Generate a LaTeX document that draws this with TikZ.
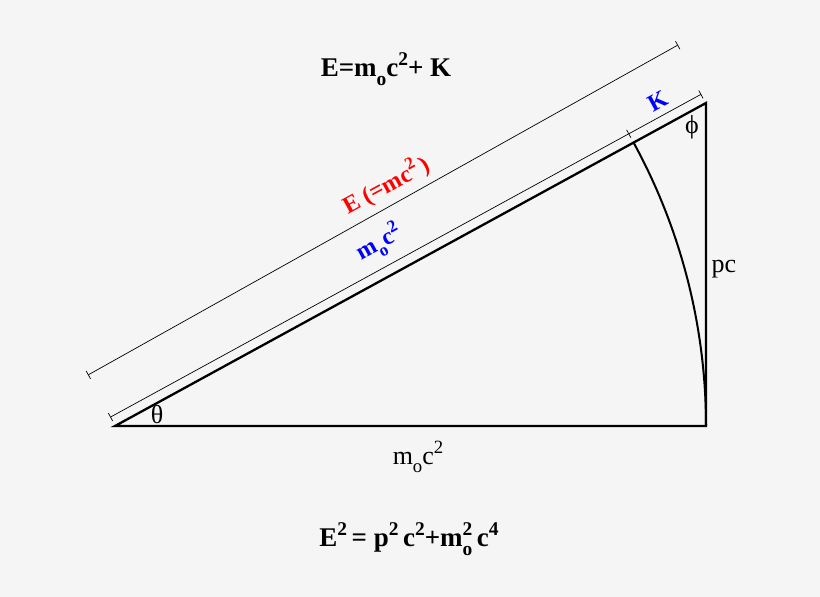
\documentclass[tikz,border=0pt]{standalone}
\usepackage{fontspec}
\setmainfont{Liberation Serif}
\usetikzlibrary{calc,arrows.meta}

\newcommand{\lo}[1]{\raisebox{-0.3em}{\scalebox{0.72}{#1}}}
\newcommand{\hi}[1]{\raisebox{0.42em}{\scalebox{0.72}{#1}}}
\newcommand{\lohi}[2]{\rlap{\raisebox{0.42em}{\scalebox{0.72}{#2}}}\lo{#1}\,}

\begin{document}
\begin{tikzpicture}[x=1pt, y=1pt,
    side/.style={line width=2.3pt, line join=miter},
    dimline/.style={line width=0.7pt, {Bar[width=9pt,line width=0.7pt]}-{Bar[width=9pt,line width=0.7pt]}},
    formula/.style={font=\bfseries\fontsize{27}{31}\selectfont},
    tag/.style={font=\fontsize{26}{30}\selectfont},
    slanted/.style={font=\bfseries\fontsize{24}{28}\selectfont, rotate=28.65}]
  \useasboundingbox[fill=black!4] (0,0) rectangle (820,597);

  % corners of the triangle
  \coordinate (A) at (115,171);
  \coordinate (B) at (706,171);
  \coordinate (C) at (706,494);

  % triangle and arc
  \draw[side] (A) -- (B) -- (C) -- cycle;
  \draw[line width=2pt] (B) arc[start angle=0, end angle=28.65, radius=591];

  % inner measure line, split at the arc
  \coordinate (Ai) at ($(A)!10pt!90:(C)$);
  \coordinate (Ci) at ($(C)!10pt!-90:(A)$);
  \coordinate (Mi) at ($(Ai)!591pt!(Ci)$);
  \draw[dimline] (Ai) -- (Ci);
  \draw[line width=0.7pt] ($(Mi)!4.5pt!90:(Ci)$) -- ($(Mi)!4.5pt!-90:(Ci)$);

  % outer measure line
  \coordinate (Ao) at (88,222);
  \coordinate (Co) at (678,552);
  \draw[dimline] (Ao) -- (Co);

  % labels
  \node[formula] (total) at (386,528) {E=m\lo{o}c\hi{2}+ K};
  \node[formula] (invariant) at (409,58) {E\hi{2}\,= p\hi{2}\,c\hi{2}+m\lohi{o}{2}c\hi{4}};
  \node[slanted, text=red] (energy) at (386,412) {E (=mc\hi{2}\,)};
  \node[slanted, text=blue] (rest) at (379,354) {m\lo{o}c\hi{2}};
  \node[slanted, text=blue] (kinetic) at (658,496) {K};
  \node[tag] (theta) at (157,182) {θ};
  \node[tag] (phi) at (692,470) {ϕ};
  \node[tag] (momentum) at (724,328) {pc};
  \node[tag] (base) at (418,140) {m\lo{o}c\hi{2}};
\end{tikzpicture}
\end{document}
